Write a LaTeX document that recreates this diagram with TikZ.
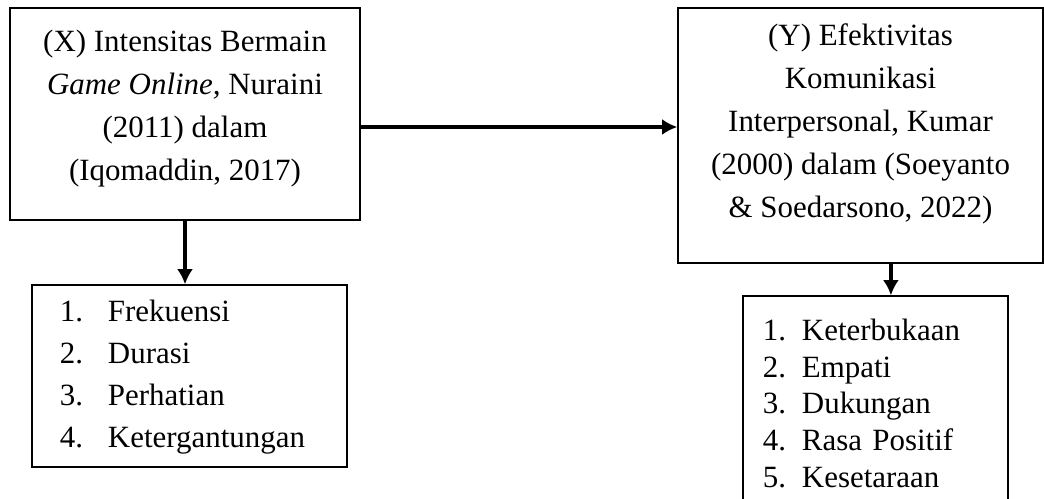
\documentclass[tikz,border=0pt]{standalone}
\usepackage{fontspec}
\setmainfont{Liberation Serif}
\usetikzlibrary{arrows.meta}
\tikzset{>={Latex[length=3.8mm,width=4mm]}}
\tikzset{
  varbox/.style={draw, line width=0.9pt, align=center, inner sep=0pt,
    font=\fontsize{22}{30.6}\selectfont},
  listbox/.style={draw, line width=0.9pt, align=left, inner ysep=0pt,
    font=\fontsize{22}{30}\selectfont},
  link/.style={->, line width=2.4pt},
}

\begin{document}
\begin{tikzpicture}[x=0.025cm, y=-0.025cm]
  \useasboundingbox (0,0) rectangle (1044,499);
  % variables
  \node[varbox, text depth=13pt, minimum width=8.75cm, minimum height=5.3cm] (intensitas) at (185,114)
    {(X) Intensitas Bermain\\ \textit{Game Online,} Nuraini\\ (2011) dalam\\ (Iqomaddin, 2017)};
  \node[varbox, text depth=21pt, minimum width=9.125cm, minimum height=6.375cm] (efektivitas) at (860.5,135.5)
    {(Y) Efektivitas\\ Komunikasi\\ Interpersonal, Kumar\\ (2000) dalam (Soeyanto\\ \& Soedarsono, 2022)};
  % indicators
  \node[listbox, inner xsep=0.7cm, text width=6.475cm, minimum height=4.55cm] (indikatorx) at (189.5,376)
    {\begin{tabular}{@{}p{1.2cm}@{}l@{}}
      1. & Frekuensi\\
      2. & Durasi\\
      3. & Perhatian\\
      4. & Ketergantungan
    \end{tabular}};
  \node[listbox, font=\fontsize{22}{26.2}\selectfont, text depth=51pt, inner xsep=0.5cm, text width=5.625cm, minimum height=5.2cm] (indikatory) at (875.5,400)
    {\begin{tabular}{@{}p{0.975cm}@{}l@{}}
      1. & Keterbukaan\\
      2. & Empati\\
      3. & Dukungan\\
      4. & Rasa Positif\\
      5. & Kesetaraan
    \end{tabular}};
  % arrows
  \draw[link] ([yshift=-0.325cm]intensitas.east) -- ([yshift=-0.325cm]intensitas.east -| efektivitas.west);
  \draw[link] (intensitas.south) -- (intensitas.south |- indikatorx.north);
  \draw[link] ([xshift=0.76cm]efektivitas.south) -- ([xshift=0.76cm]efektivitas.south |- indikatory.north);
\end{tikzpicture}
\end{document}
